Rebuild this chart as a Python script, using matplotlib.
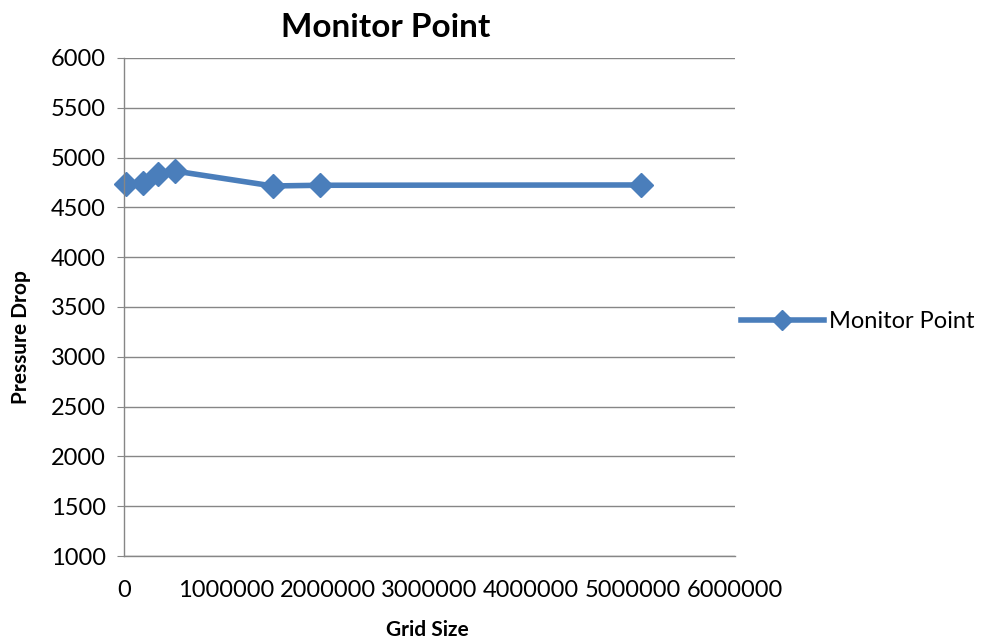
import matplotlib
matplotlib.use("Agg")
import matplotlib.pyplot as plt
from matplotlib.ticker import FixedLocator
from matplotlib.lines import Line2D

plt.rcParams['font.family'] = ['Lato', 'DejaVu Sans']

grid_size = [20000, 184000, 337000, 500000, 1460000, 1930000, 5080000]
pressure_drop = [4732, 4742, 4832, 4865, 4715, 4722, 4725]
series_name = "Monitor Point"
x_ticks = [0, 1000000, 2000000, 3000000, 4000000, 5000000, 6000000]
y_ticks = [1000, 1500, 2000, 2500, 3000, 3500, 4000, 4500, 5000, 5500, 6000]

fig = plt.figure(figsize=(9.81, 6.44), dpi=100)
ax = fig.add_axes([0.1264, 0.1366, 0.6226, 0.7734])

blue = "#4A7EBB"
ax.plot(grid_size, pressure_drop, color=blue, lw=4, marker='D', ms=12,
        markeredgecolor=blue, solid_joinstyle='round', clip_on=False)

ax.set_xlim(0, 6000000)
ax.set_ylim(1000, 6000)
ax.xaxis.set_major_locator(FixedLocator(x_ticks))
ax.yaxis.set_major_locator(FixedLocator(y_ticks))
ax.set_xticklabels([str(v) for v in x_ticks])
ax.set_yticklabels([str(v) for v in y_ticks])

ax.grid(axis='y', color='#868686', lw=1)
ax.set_axisbelow(True)
for s in ['top', 'right']:
    ax.spines[s].set_visible(False)
for s in ['left', 'bottom']:
    ax.spines[s].set_color('#868686')
    ax.spines[s].set_linewidth(1)
ax.tick_params(axis='x', labelsize=17, length=0, pad=17)
ax.tick_params(axis='y', labelsize=17, length=5, pad=8, color='#868686')

fig.text(0.3935, 0.958, "Monitor Point", fontsize=24, fontweight='bold',
         ha='center', va='center')
fig.text(0.436, 0.022, "Grid Size", fontsize=15, fontweight='bold',
         ha='center', va='center')
fig.text(0.021, 0.477, "Pressure Drop", fontsize=15, fontweight='bold',
         ha='center', va='center', rotation=90)

handle = Line2D([], [], color=blue, lw=4, marker='D', ms=10,
                markeredgecolor=blue)
ax.legend([handle], [series_name], loc='center left',
          bbox_to_anchor=(0.995, 0.47), frameon=False, fontsize=17,
          handlelength=3.5, handletextpad=0.2, borderaxespad=0.0)

fig.savefig("out.png", dpi=100)
